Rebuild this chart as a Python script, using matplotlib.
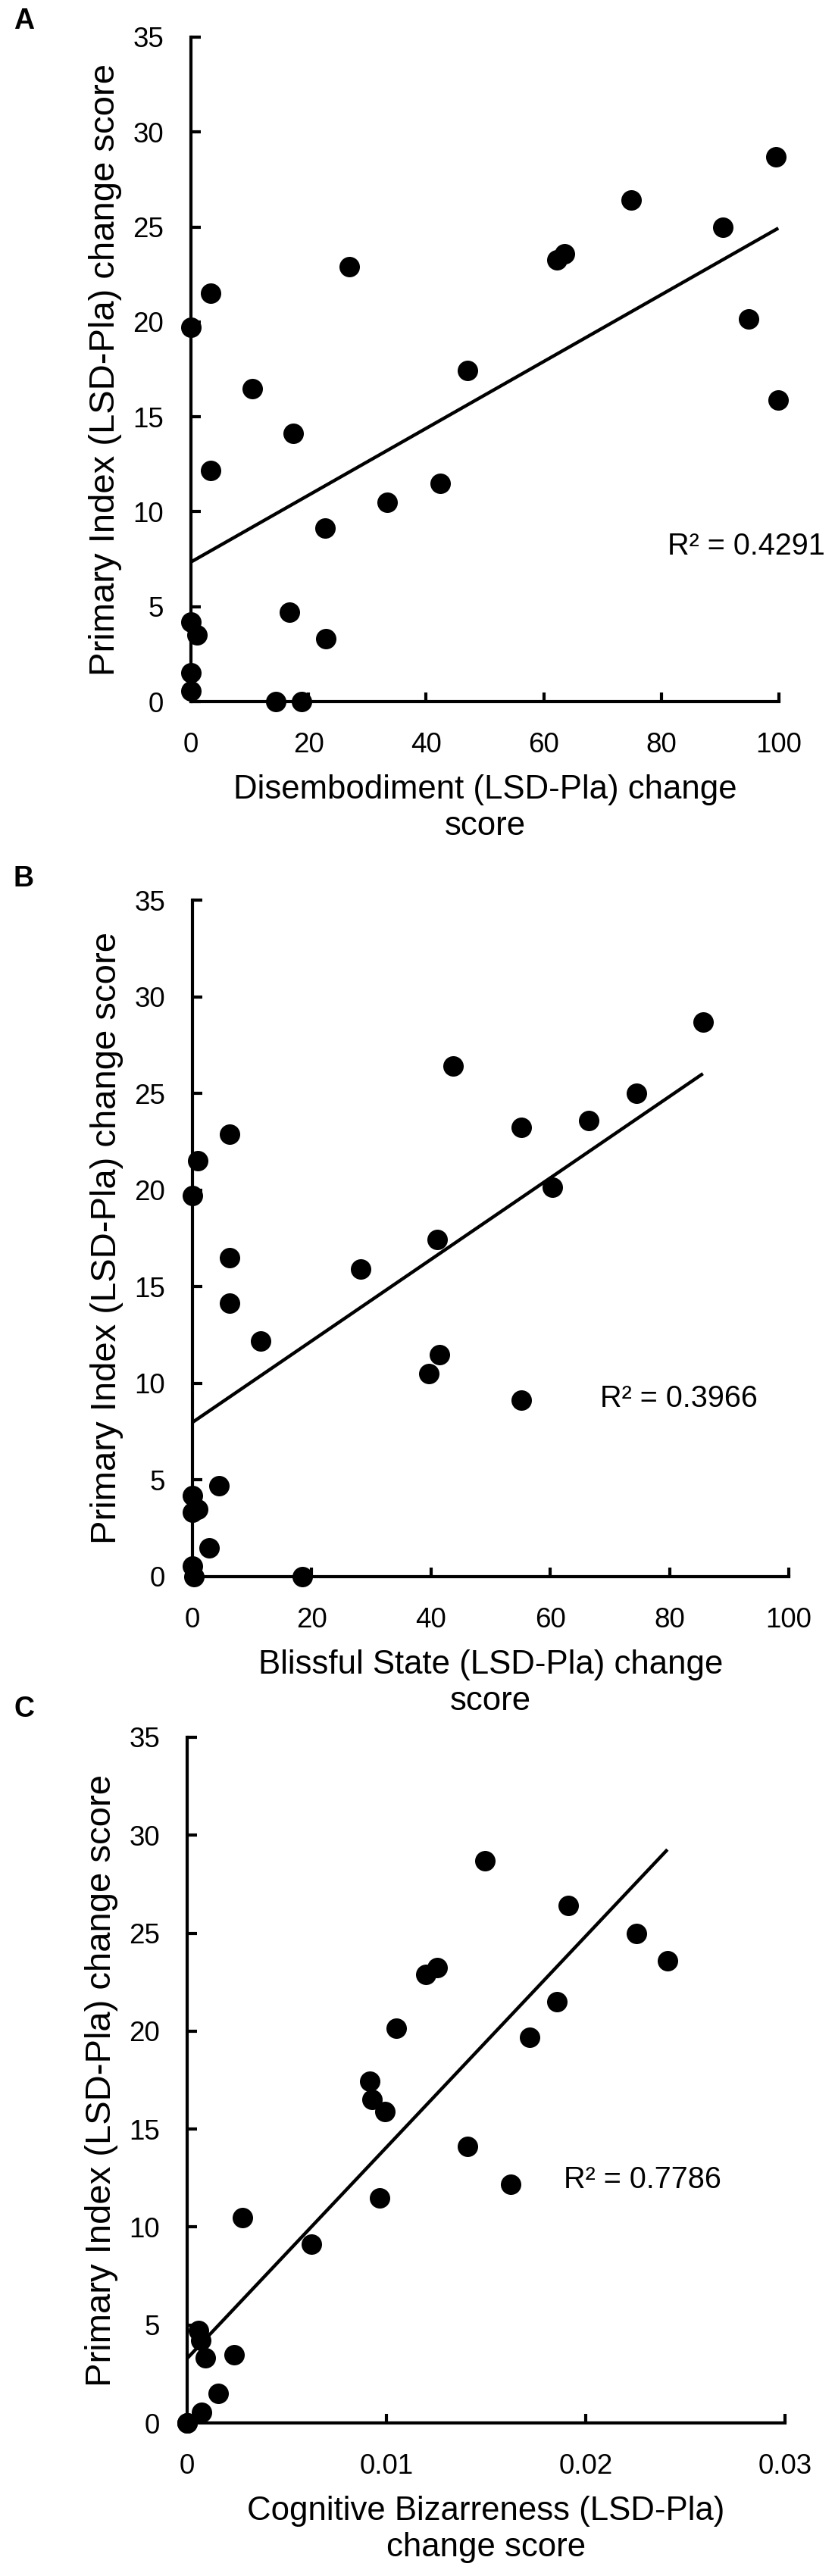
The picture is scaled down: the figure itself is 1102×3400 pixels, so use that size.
import matplotlib
matplotlib.use("Agg")
import matplotlib.pyplot as plt
from matplotlib.ticker import FuncFormatter
import numpy as np

plt.rcParams['font.family'] = ['Liberation Sans', 'DejaVu Sans']

# Primary Index (LSD-Pla) change score, one value per subject
primary = [28.7, 26.4, 25.0, 23.25, 23.6, 22.9, 21.5, 19.7, 20.15, 17.46, 16.5, 15.9, 14.13,
           12.17, 11.5, 10.5, 9.13, 4.7, 4.2, 3.5, 3.33, 1.5, 0.56, 0.0, 0.0]

# x values of the three panels, same subject order as above
disembodiment = [99.5, 74.9, 90.5, 62.2, 63.5, 26.9, 3.3, 0.0, 94.9, 47.1, 10.4, 99.9, 17.4,
                 3.3, 42.4, 33.4, 22.8, 16.7, 0.0, 1.0, 23.0, 0.0, 0.0, 14.4, 18.8]
blissful = [85.6, 43.7, 74.5, 55.1, 66.5, 6.2, 0.9, 0.0, 60.3, 41.0, 6.2, 28.2, 6.2,
            11.4, 41.4, 39.7, 55.1, 4.5, 0.0, 0.9, 0.0, 2.8, 0.0, 0.2, 18.4]
bizarre = [0.01496, 0.01913, 0.02255, 0.01256, 0.0241, 0.01197, 0.01854, 0.01718, 0.0105,
           0.00916, 0.00927, 0.00994, 0.01408, 0.01622, 0.00964, 0.00278, 0.00622,
           0.00058, 0.00067, 0.00236, 0.00093, 0.00156, 0.00071, 0.0, 0.0]

panel_letters = ["A", "B", "C"]
xlabels = ["Disembodiment (LSD-Pla) change\nscore",
           "Blissful State (LSD-Pla) change\nscore",
           "Cognitive Bizarreness (LSD-Pla)\nchange score"]
r2_labels = ["R\u00b2 = 0.4291", "R\u00b2 = 0.3966", "R\u00b2 = 0.7786"]
r2_pos = [(81.0, 8.2), (68.3, 9.2), (0.0189, 12.4)]
xticks_all = [[0, 20, 40, 60, 80, 100], [0, 20, 40, 60, 80, 100], [0, 0.01, 0.02, 0.03]]
yticks = [0, 5, 10, 15, 20, 25, 30, 35]

W, H = 1102, 3400
fig = plt.figure(figsize=(W / 100, H / 100), dpi=100)

# axes boxes in pixels: left, right, top, bottom
boxes = [(252, 1028, 49, 926), (254, 1041, 1188, 2081), (247, 1036, 2293, 3198)]
letter_y = [10, 1142, 2238]
xs_all = [disembodiment, blissful, bizarre]

for i in range(3):
    l, r, t, b = boxes[i]
    ax = fig.add_axes([l / W, 1 - b / H, (r - l) / W, (b - t) / H])
    x = np.array(xs_all[i])
    y = np.array(primary)
    ax.scatter(x, y, s=27 ** 2 * 0.72 ** 2, color="black", zorder=3, clip_on=False, linewidths=0)
    k, c = np.polyfit(x, y, 1)
    xl = np.array([x.min(), x.max()])
    ax.plot(xl, k * xl + c, color="black", lw=3.2, zorder=2, solid_capstyle="butt")

    ax.set_xlim(xticks_all[i][0], xticks_all[i][-1])
    ax.set_ylim(0, 35)
    ax.set_xticks(xticks_all[i])
    ax.set_yticks(yticks)
    ax.xaxis.set_major_formatter(FuncFormatter(lambda v, p: f"{v:g}"))
    for s in ["top", "right"]:
        ax.spines[s].set_visible(False)
    for s in ["left", "bottom"]:
        ax.spines[s].set_linewidth(3.0)
    ax.tick_params(axis="both", direction="in", length=9, width=3.0, labelsize=26.5)
    ax.tick_params(axis="x", pad=29)
    ax.tick_params(axis="y", pad=26)
    ax.set_ylabel("Primary Index (LSD-Pla) change score", fontsize=34, labelpad=10)
    ax.set_xlabel(xlabels[i], fontsize=31.5, labelpad=15)
    ax.text(r2_pos[i][0], r2_pos[i][1], r2_labels[i], fontsize=28.5, ha="left", va="center")
    fig.text(18 / W, 1 - letter_y[i] / H, panel_letters[i], fontsize=27, fontweight="bold",
             ha="left", va="top")

fig.savefig("out.png", dpi=100)
